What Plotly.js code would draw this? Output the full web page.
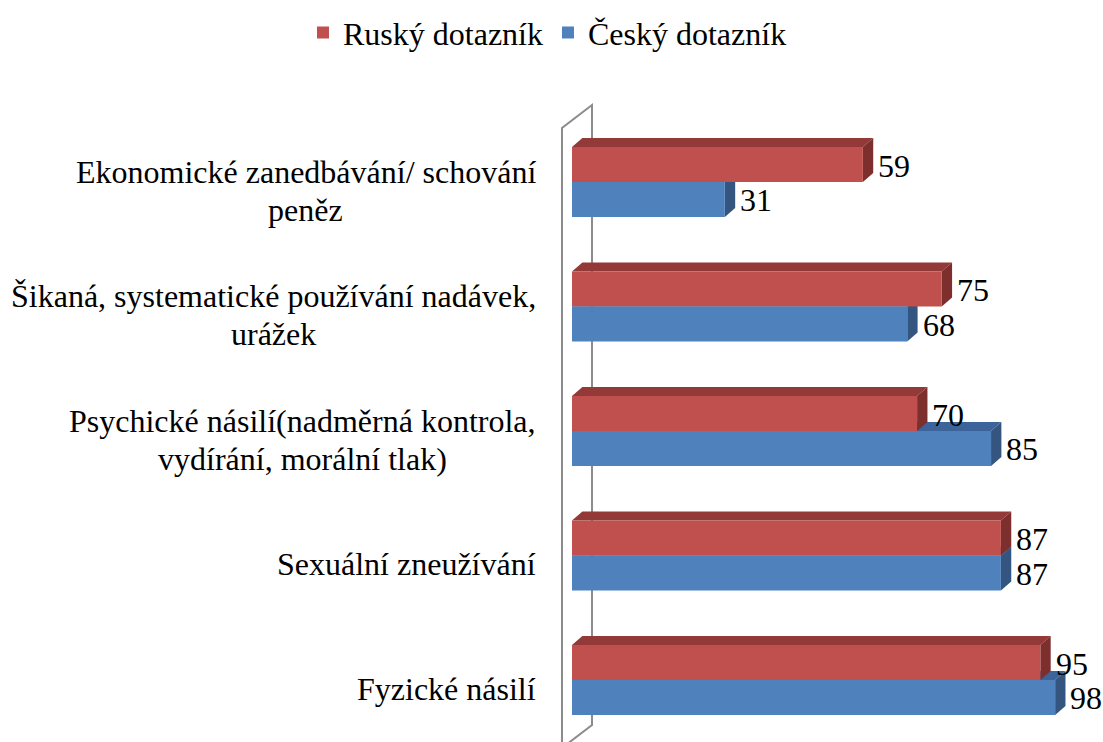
<!DOCTYPE html>
<html>
<head>
<meta charset="utf-8">
<script src="https://cdn.plot.ly/plotly-3.0.1.min.js"></script>
<style>
  html, body { margin: 0; padding: 0; background: #ffffff; }
  #chart { width: 1103px; height: 742px; }
</style>
</head>
<body>
<div id="chart"></div>
<script>
// ---- data ----
var categories = [
  "Ekonomické zanedbávání/ schování<br>peněz",
  "Šikaná, systematické používání nadávek,<br>urážek",
  "Psychické násilí(nadměrná kontrola,<br>vydírání, morální tlak)",
  "Sexuální zneužívání",
  "Fyzické násilí"
];
var seriesNames = ["Ruský dotazník", "Český dotazník"];
var ruskyValues = [59, 75, 70, 87, 95];
var ceskyValues = [31, 68, 85, 87, 98];

// ---- style ----
var FONT_FAMILY = 'Liberation Serif';
var FS = 32;
var BAR_W = 0.281;     // bar thickness in category units
var DX = 2.1;          // 3D depth, x units
var DY = 0.072;        // 3D depth, category units
var colors = {
  redFront: '#C0504D', redTop: '#933A38', redSide: '#7C2F2D',
  blueFront: '#4F81BD', blueTop: '#3C649B', blueSide: '#33557F'
};
var MARGIN_L = 550, PLOT_W = 553;
var LABEL_RIGHT_PX = 536, LINE_STEP_PX = 38, LABEL_DROP_PX = 8.5;

var yIdx = categories.map(function (_, i) { return i; });

function path(pts) {
  return 'M' + pts.map(function (p) { return p[0] + ',' + p[1]; }).join(' L') + ' Z';
}

function faces(values, offset, topCol, sideCol) {
  var out = [];
  values.forEach(function (v, i) {
    var y0 = i + offset;          // upper edge (reversed axis)
    var y1 = y0 + BAR_W;          // lower edge
    out.push({
      type: 'path', xref: 'x', yref: 'y', layer: 'below',
      path: path([[0, y0], [DX, y0 - DY], [v + DX, y0 - DY], [v, y0]]),
      fillcolor: topCol, line: { width: 0 }
    });
    out.push({
      type: 'path', xref: 'x', yref: 'y', layer: 'below',
      path: path([[v, y0], [v + DX, y0 - DY], [v + DX, y1 - DY], [v, y1]]),
      fillcolor: sideCol, line: { width: 0 }
    });
  });
  return out;
}

// side wall outline (3D chart wall)
var wallColor = '#8C8C8C';
var wall = [
  { type: 'path', xref: 'x', yref: 'y', layer: 'below',
    path: 'M-2.03,4.7 L-2.03,-0.434 L4.06,-0.618 L4.06,4.361 L-2.03,4.546',
    line: { color: wallColor, width: 2 }, fillcolor: 'rgba(0,0,0,0)' }
];

var shapes = wall
  .concat(faces(ceskyValues, 0, colors.blueTop, colors.blueSide))
  .concat(faces(ruskyValues, -BAR_W, colors.redTop, colors.redSide));

var traces = [
  {
    type: 'bar', orientation: 'h', name: seriesNames[0],
    x: ruskyValues, y: yIdx, width: BAR_W, offset: -BAR_W,
    marker: { color: colors.redFront, line: { width: 0 } },
    hoverinfo: 'x+name'
  },
  {
    type: 'bar', orientation: 'h', name: seriesNames[1],
    x: ceskyValues, y: yIdx, width: BAR_W, offset: 0,
    marker: { color: colors.blueFront, line: { width: 0 } },
    hoverinfo: 'x+name'
  }
];

// text width measurement for centring wrapped category labels
var ctx = document.createElement('canvas').getContext('2d');
ctx.font = FS + 'px "' + FONT_FAMILY + '"';
function textW(s) { return ctx.measureText(s).width; }

var annotations = [];
categories.forEach(function (c, i) {
  var lines = c.split('<br>');
  var blockW = Math.max.apply(null, lines.map(textW));
  var centerPx = LABEL_RIGHT_PX - blockW / 2;
  var n = lines.length;
  lines.forEach(function (ln, j) {
    var offPx = (j - (n - 1) / 2) * LINE_STEP_PX + LABEL_DROP_PX;
    annotations.push({
      text: ln, xref: 'paper', yref: 'y', x: (centerPx - MARGIN_L) / PLOT_W, y: i,
      xanchor: 'center', yanchor: 'middle', align: 'center', yshift: -offPx,
      showarrow: false, font: { family: FONT_FAMILY, size: FS, color: '#000000' }
    });
  });
});
function valueLabels(values, offset) {
  values.forEach(function (v, i) {
    annotations.push({
      text: String(v), xref: 'x', yref: 'y', x: v + DX, y: i + offset + BAR_W / 2,
      xanchor: 'left', yanchor: 'middle', xshift: 3, yshift: -1,
      showarrow: false, font: { family: FONT_FAMILY, size: FS, color: '#000000' }
    });
  });
}
valueLabels(ruskyValues, -BAR_W);
valueLabels(ceskyValues, 0);

var layout = {
  width: 1103, height: 742,
  margin: { l: MARGIN_L, r: 0, t: 100, b: 0, pad: 0 },
  paper_bgcolor: '#ffffff', plot_bgcolor: '#ffffff',
  barmode: 'overlay',
  showlegend: true,
  legend: {
    orientation: 'h', traceorder: 'normal',
    xref: 'container', yref: 'container',
    x: 0.2747, xanchor: 'left', y: 0.956, yanchor: 'middle',
    font: { family: FONT_FAMILY, size: FS, color: '#000000' },
    bgcolor: 'rgba(0,0,0,0)'
  },
  xaxis: {
    visible: false, range: [-4.462, 107.71], fixedrange: true,
    showgrid: false, zeroline: false
  },
  yaxis: {
    visible: false, range: [4.498, -0.6586], fixedrange: true,
    showgrid: false, zeroline: false
  },
  shapes: shapes,
  annotations: annotations
};

Plotly.newPlot('chart', traces, layout, { staticPlot: true, displayModeBar: false });
</script>
</body>
</html>
